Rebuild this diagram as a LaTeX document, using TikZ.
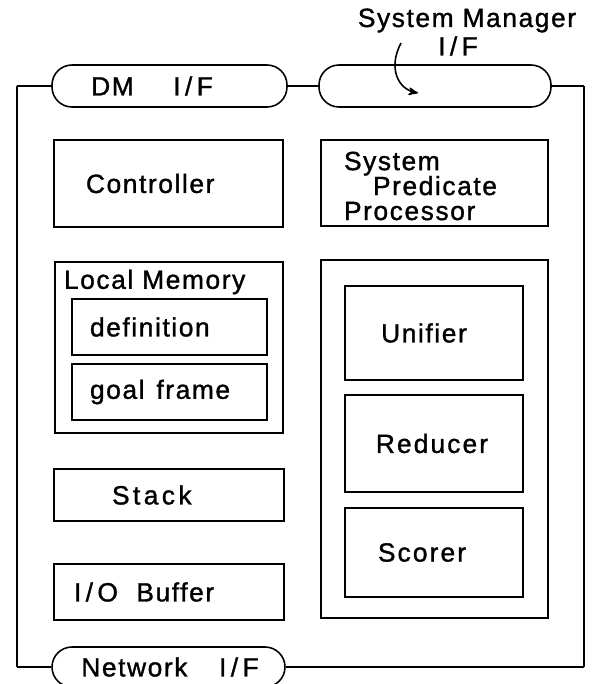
\documentclass[tikz,border=0pt]{standalone}
\usepackage{fontspec}
\setmainfont{Liberation Sans}[LetterSpace=6,FakeBold=1.2]
\usetikzlibrary{arrows,positioning}
\tikzset{
	box/.style={draw, line width=0.9pt, inner sep=0},
	pill/.style={draw, line width=0.9pt, rounded corners=4mm, inner sep=0},
	txt/.style={inner sep=0, outer sep=0},
}

\begin{document}
\begin{tikzpicture}[->,>=stealth',line width=0.9pt,
		font=\fontsize{15}{14.2}\selectfont]
	\useasboundingbox (0,0) rectangle (11.92,-13.68);
	% interfaces
	\node[pill, minimum width=4.7cm, minimum height=0.84cm] (dmif) at (3.39,-1.72) {};
	\node[txt] (dmif_t) at (3.04,-1.72) {DM\hspace{1.5em}I\,/\,F};
	\node[pill, minimum width=4.64cm, minimum height=0.84cm] (smif) at (8.70,-1.72) {};
	\node[pill, minimum width=4.66cm, minimum height=0.8cm] (netif) at (3.37,-13.34) {};
	\node[txt] (netif_t) at (3.40,-13.34) {Network\hspace{1.2em}I\,/\,F};
	\node[txt] (smif_l1) at (9.34,-0.41) {System Manager};
	\node[txt] (smif_l2) at (9.16,-0.92) {I\,/\,F};
	\coordinate (smtail) at (8.02,-0.86);
	\coordinate (smhead) at (8.36,-1.86);
	\draw (smtail) .. controls (7.76,-1.35) and (7.95,-1.78) .. (smhead);
	% frame
	\coordinate (ftl) at (0.34,-1.72);
	\coordinate (ftr) at (11.68,-1.72);
	\coordinate (fbr) at (11.68,-13.34);
	\coordinate (fbl) at (0.34,-13.34);
	\path[-] (dmif.west) edge (ftl) (ftl) edge (fbl) (fbl) edge (netif.west);
	\path[-] (dmif.east) edge (smif.west);
	\path[-] (smif.east) edge (ftr) (ftr) edge (fbr) (fbr) edge (netif.east);
	% left column
	\node[box, minimum width=4.58cm, minimum height=1.74cm] (ctrl) at (3.37,-3.67) {};
	\node[txt, anchor=west] (ctrl_t) at (1.72,-3.67) {Controller};
	\node[box, minimum width=4.56cm, minimum height=3.42cm] (lmem) at (3.38,-6.95) {};
	\node[txt, anchor=west] (lmem_t) at (1.28,-5.64) {Local Memory};
	\node[box, minimum width=3.9cm, minimum height=1.12cm] (defn) at (3.39,-6.54) {};
	\node[txt, anchor=west] (defn_t) at (1.80,-6.54) {definition};
	\node[box, minimum width=3.9cm, minimum height=1.12cm] (goal) at (3.39,-7.84) {};
	\node[txt, anchor=west] (goal_t) at (1.80,-7.84) {goal\hspace{0.45em}frame};
	\node[box, minimum width=4.6cm, minimum height=1.04cm] (stk) at (3.38,-9.9) {};
	\node[txt, anchor=west] (stk_t) at (2.24,-9.9) {\addfontfeatures{LetterSpace=13}Stack};
	\node[box, minimum width=4.6cm, minimum height=1.12cm] (iobuf) at (3.38,-11.84) {};
	\node[txt, anchor=west] (iobuf_t) at (1.48,-11.84) {I\,/\,O\hspace{0.7em}Buffer};
	% right column
	\node[box, minimum width=4.54cm, minimum height=1.72cm] (spp) at (8.69,-3.66) {};
	\node[txt, anchor=west, align=left] (spp_t) at (6.88,-3.72) {System\\\hspace*{0.58cm}Predicate\\Processor};
	\node[box, minimum width=4.54cm, minimum height=7.16cm] (proc) at (8.69,-8.78) {};
	\node[box, minimum width=3.56cm, minimum height=1.88cm] (unif) at (8.68,-6.66) {};
	\node[txt] (unif_t) at (8.48,-6.66) {Unifier};
	\node[box, minimum width=3.56cm, minimum height=1.94cm] (red) at (8.68,-8.87) {};
	\node[txt] (red_t) at (8.64,-8.87) {\addfontfeatures{LetterSpace=8}Reducer};
	\node[box, minimum width=3.56cm, minimum height=1.78cm] (scor) at (8.68,-11.05) {};
	\node[txt] (scor_t) at (8.44,-11.05) {\addfontfeatures{LetterSpace=8}Scorer};
\end{tikzpicture}
\end{document}
